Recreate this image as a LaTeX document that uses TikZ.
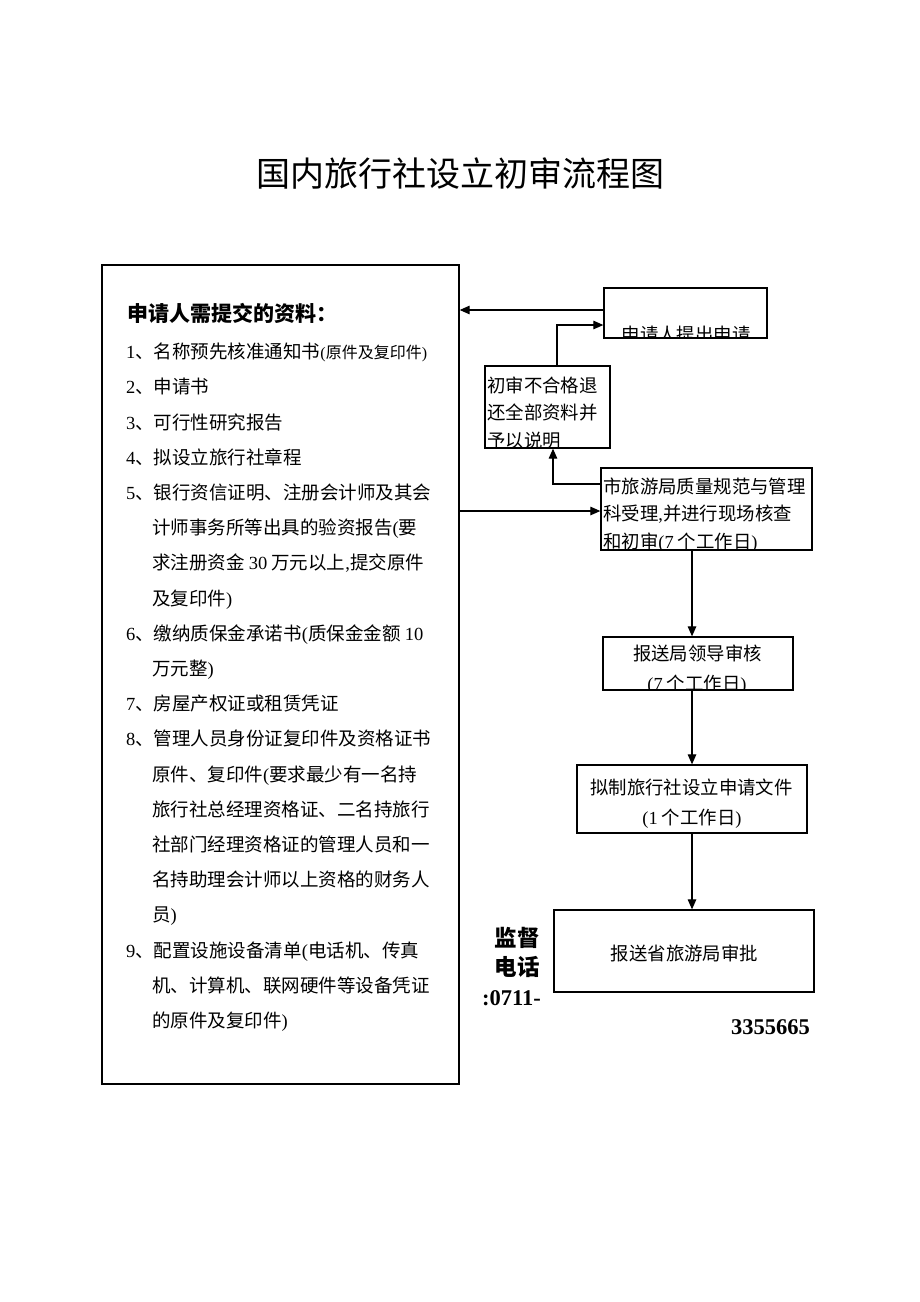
\documentclass[tikz,border=0pt]{standalone}
\usepackage{fontspec}
\setmainfont{Noto Sans CJK SC}
\newfontfamily\tmsfont{Liberation Serif}
\newcommand\tms[1]{{\tmsfont #1}}
\usetikzlibrary{arrows.meta}
\begin{document}
\begin{tikzpicture}[x=1pt,y=-1pt,
  box/.style={draw, line width=1.3pt, inner sep=0pt},
  arr/.style={-{Triangle[length=10pt,width=8.5pt]}, line width=1.2pt},
  item/.style={inner sep=0pt, anchor=base west, font=\fontsize{18.5}{18.5}\selectfont},
  btxt/.style={inner sep=0pt, anchor=base west, font=\fontsize{18.4}{18.4}\selectfont},
  ctxt/.style={inner sep=0pt, anchor=base, font=\fontsize{18.4}{18.4}\selectfont},
  bold/.style={inner sep=0pt, anchor=base east, font=\fontsize{22.5}{22.5}\selectfont\bfseries}]
\useasboundingbox (0,0) rectangle (920,1302);
\fill[white] (0,0) rectangle (920,1302);

% title
\node[inner sep=0pt, anchor=base, font=\fontsize{34}{34}\selectfont] (title) at (460.5,186) {国内旅行社设立初审流程图};

% left box
\node[box, minimum width=357pt, minimum height=819pt] (L) at (280.5,674.5) {};
\node[inner sep=0pt, anchor=base west, font=\fontsize{21}{21}\selectfont\bfseries] (head) at (127,321) {申请人需提交的资料：};
\node[item] (i0) at (126,358.7) {\tms{1}、名称预先核准通知书{\fontsize{16}{16}\selectfont\tms{(}原件及复印件\tms{)}}};
\node[item] (i1) at (126,393.9) {\tms{2}、申请书};
\node[item] (i2) at (126,429.1) {\tms{3}、可行性研究报告};
\node[item] (i3) at (126,464.3) {\tms{4}、拟设立旅行社章程};
\node[item] (i4) at (126,499.5) {\tms{5}、银行资信证明、注册会计师及其会};
\node[item] (i5) at (152,534.7) {计师事务所等出具的验资报告\tms{(}要};
\node[item] (i6) at (152,569.9) {求注册资金 \tms{30} 万元以上\tms{,}提交原件};
\node[item] (i7) at (152,605.1) {及复印件\tms{)}};
\node[item] (i8) at (126,640.3) {\tms{6}、缴纳质保金承诺书\tms{(}质保金金额 \tms{10}};
\node[item] (i9) at (152,675.5) {万元整\tms{)}};
\node[item] (i10) at (126,710.7) {\tms{7}、房屋产权证或租赁凭证};
\node[item] (i11) at (126,745.9) {\tms{8}、管理人员身份证复印件及资格证书};
\node[item] (i12) at (152,781.1) {原件、复印件\tms{(}要求最少有一名持};
\node[item] (i13) at (152,816.3) {旅行社总经理资格证、二名持旅行};
\node[item] (i14) at (152,851.5) {社部门经理资格证的管理人员和一};
\node[item] (i15) at (152,886.7) {名持助理会计师以上资格的财务人};
\node[item] (i16) at (152,921.9) {员\tms{)}};
\node[item] (i17) at (126,957.1) {\tms{9}、配置设施设备清单\tms{(}电话机、传真};
\node[item] (i18) at (152,992.3) {机、计算机、联网硬件等设备凭证};
\node[item] (i19) at (152,1027.5) {的原件及复印件\tms{)}};

% box 1 (clipped text)
\begin{scope}
\clip (604,288) rectangle (767,338);
\node[ctxt] (t1) at (686,341) {申请人提出申请};
\end{scope}
\node[box, minimum width=163pt, minimum height=50pt] (b1) at (685.5,313) {};

% box 2
\node[box, minimum width=125pt, minimum height=82pt] (b2) at (547.5,407) {};
\node[btxt] (t2a) at (487,392) {初审不合格退};
\node[btxt] (t2b) at (487,419.5) {还全部资料并};
\node[btxt] (t2c) at (487,447) {予以说明};

% box 3
\begin{scope}
\clip (601,468) rectangle (812,550);
\node[btxt] (t3a) at (603,493) {市旅游局质量规范与管理};
\node[btxt] (t3b) at (603,520.5) {科受理\tms{,}并进行现场核查};
\node[btxt] (t3c) at (603,548) {和初审\tms{(7} 个工作日\tms{)}};
\end{scope}
\node[box, minimum width=211pt, minimum height=82pt] (b3) at (706.5,509) {};

% box 4
\begin{scope}
\clip (603,637) rectangle (793,690);
\node[ctxt] (t4a) at (697.5,660) {报送局领导审核};
\node[ctxt] (t4b) at (697,690) {\tms{(7} 个工作日\tms{)}};
\end{scope}
\node[box, minimum width=190pt, minimum height=53pt] (b4) at (698,663.5) {};

% box 5
\node[box, minimum width=230pt, minimum height=68pt] (b5) at (692,799) {};
\node[ctxt] (t5a) at (691.5,794) {拟制旅行社设立申请文件};
\node[ctxt] (t5b) at (692,824) {\tms{(1} 个工作日\tms{)}};

% box 6
\node[box, minimum width=260pt, minimum height=82pt] (b6) at (684,951) {};
\node[ctxt] (t6) at (684.5,960) {报送省旅游局审批};

% supervision phone
\node[bold] (s1) at (540,946.5) {监督};
\node[bold] (s2) at (540,975.5) {电话};
\node[inner sep=0pt, anchor=base east, font=\fontsize{22.5}{22.5}\selectfont\tmsfont\bfseries] (s3) at (541,1005) {:0711-};
\node[inner sep=0pt, anchor=base east, font=\fontsize{22.5}{22.5}\selectfont\tmsfont\bfseries] (s4) at (810,1034) {3355665};

% connectors
\coordinate (p1) at ([yshift=3pt]b1.west);
\draw[arr] (p1) -- (p1 -| L.east);
\coordinate (p2) at ([xshift=9.5pt]b2.north);
\coordinate (p3) at ([yshift=-12pt]b1.west);
\draw[arr] (p2) |- (p3);
\coordinate (p4) at ([yshift=25pt]b3.west);
\coordinate (p5) at ([xshift=5.5pt]b2.south);
\draw[arr] (p4) -| (p5);
\coordinate (p6) at ([yshift=-2pt]b3.west);
\draw[arr] (p6 -| L.east) -- (p6);
\draw[arr] (b3.south -| b5.center) -- (b4.north -| b5.center);
\draw[arr] (b4.south -| b5.center) -- (b5.north);
\draw[arr] (b5.south) -- (b6.north -| b5.center);
\end{tikzpicture}
\end{document}
